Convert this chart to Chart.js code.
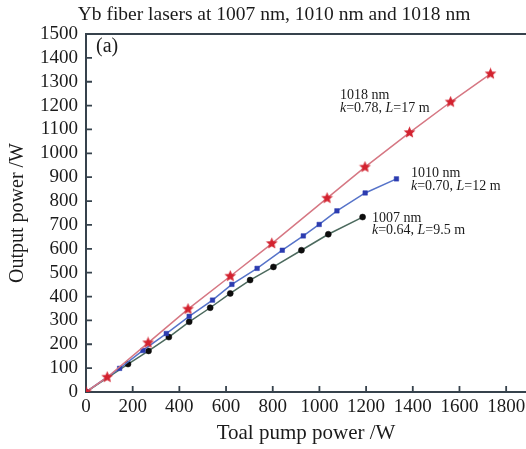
<!DOCTYPE html>
<html><head><meta charset="utf-8">
<script src="https://cdn.jsdelivr.net/npm/chart.js@4"></script>
<style>html,body{margin:0;padding:0;background:#fff}#wrap{width:526px;height:449px}</style>
</head><body><div id="wrap"><canvas id="c" width="526" height="449"></canvas></div>
<script>
// ---- data ----
const chartTitle = 'Yb fiber lasers at 1007 nm, 1010 nm and 1018 nm';
const panelLabel = '(a)';
const xAxisTitle = 'Toal pump power /W';
const yAxisTitle = 'Output power /W';
const xTickValues = [0, 200, 400, 600, 800, 1000, 1200, 1400, 1600, 1800];
const yTickValues = [0, 100, 200, 300, 400, 500, 600, 700, 800, 900, 1000, 1100, 1200, 1300, 1400, 1500];

const seriesNames = ['1018 nm', '1010 nm', '1007 nm'];
const seriesNotes = ['k=0.78, L=17 m', 'k=0.70, L=12 m', 'k=0.64, L=9.5 m'];

const pump1018 = [0, 91, 266, 437, 618, 796, 1033, 1195, 1386, 1562, 1733];
const out1018  = [0, 62, 206, 347, 485, 622, 812, 942, 1087, 1215, 1333];

const pump1010 = [0, 144, 244, 344, 442, 542, 625, 733, 841, 931, 999, 1075, 1196, 1330];
const out1010  = [0, 99, 174, 245, 317, 385, 451, 518, 594, 654, 702, 759, 834, 893];

const pump1007 = [0, 180, 268, 355, 442, 532, 618, 703, 803, 923, 1038, 1185];
const out1007  = [0, 117, 172, 230, 294, 353, 413, 469, 524, 594, 661, 733];

// ---- rendering ----
const SERIF = '"Liberation Serif", "DejaVu Serif", serif';
const AXIS_COLOR = '#36424c';
const TEXT_COLOR = '#1b1b1b';

function pts(xs, ys) { return xs.map((x, i) => ({x: x, y: ys[i]})); }

function makeStar(color, size) {
  const c = document.createElement('canvas');
  c.width = size; c.height = size;
  const g = c.getContext('2d');
  const cx = size / 2, cy = size / 2, R = size / 2 - 0.3, r = R * 0.45;
  g.beginPath();
  for (let i = 0; i < 10; i++) {
    const a = -Math.PI / 2 + i * Math.PI / 5;
    const rr = i % 2 === 0 ? R : r;
    const px = cx + rr * Math.cos(a), py = cy + rr * Math.sin(a);
    if (i === 0) g.moveTo(px, py); else g.lineTo(px, py);
  }
  g.closePath();
  g.fillStyle = color;
  g.fill();
  return c;
}
const starImg = makeStar('#d3222f', 13);

function drawRich(ctx, text, x, y, size) {
  const parts = text.split(/(k|L)(?==)/).filter(s => s.length);
  let cx = x;
  parts.forEach(p => {
    const it = (p === 'k' || p === 'L');
    ctx.font = (it ? 'italic ' : '') + size + 'px ' + SERIF;
    ctx.fillText(p, cx, y);
    cx += ctx.measureText(p).width;
  });
}

const decor = {
  id: 'decor',
  afterDraw(chart, args, opts) {
    const ctx = chart.ctx;
    const ca = chart.chartArea;
    const xs = chart.scales.x, ys = chart.scales.y;
    ctx.save();
    // top frame line
    ctx.strokeStyle = AXIS_COLOR;
    ctx.lineWidth = 2;
    ctx.beginPath();
    ctx.moveTo(ca.left, ca.top);
    ctx.lineTo(chart.width, ca.top);
    ctx.stroke();
    // inward ticks
    ctx.lineWidth = 1.8;
    ctx.beginPath();
    xTickValues.forEach(v => {
      if (v === xs.min) return;
      const p = xs.getPixelForValue(v);
      ctx.moveTo(p, ca.bottom);
      ctx.lineTo(p, ca.bottom - 6);
    });
    yTickValues.forEach(v => {
      if (v === ys.min || v === ys.max) return;
      const p = ys.getPixelForValue(v);
      ctx.moveTo(ca.left, p);
      ctx.lineTo(ca.left + 6, p);
    });
    ctx.stroke();
    // title
    ctx.fillStyle = TEXT_COLOR;
    ctx.textBaseline = 'middle';
    ctx.textAlign = 'center';
    ctx.font = '19.5px ' + SERIF;
    ctx.fillText(chartTitle, opts.titleX, opts.titleY);
    // panel label
    ctx.textAlign = 'left';
    ctx.font = '20px ' + SERIF;
    ctx.fillText(panelLabel, ca.left + opts.panelDx, ca.top + opts.panelDy);
    // series annotations
    opts.notes.forEach((a, i) => {
      const px = xs.getPixelForValue(a[0]);
      const py = ys.getPixelForValue(a[1]);
      ctx.font = '14px ' + SERIF;
      ctx.fillText(seriesNames[i], px, py);
      drawRich(ctx, seriesNotes[i], px, py + 12.5, 14);
    });
    ctx.restore();
  }
};

const tickFont = {family: SERIF, size: 19};
const plainNum = v => String(v);

new Chart(document.getElementById('c'), {
  type: 'line',
  data: {
    datasets: [
      {label: seriesNames[0], data: pts(pump1018, out1018), borderColor: '#d67783', borderWidth: 1.5,
       pointStyle: starImg, pointBackgroundColor: '#d3222f', pointBorderColor: '#d3222f', pointRadius: 6, tension: 0},
      {label: seriesNames[1], data: pts(pump1010, out1010), borderColor: '#5673c9', borderWidth: 1.5,
       pointStyle: 'rect', pointBackgroundColor: '#2c3cb0', pointBorderColor: '#2c3cb0', pointRadius: 3.2, pointBorderWidth: 0.5, tension: 0},
      {label: seriesNames[2], data: pts(pump1007, out1007), borderColor: '#4c6a5e', borderWidth: 1.5,
       pointStyle: 'circle', pointBackgroundColor: '#0d0d0d', pointBorderColor: '#0d0d0d', pointRadius: 3, pointBorderWidth: 0.5, tension: 0}
    ]
  },
  options: {
    responsive: false,
    animation: false,
    devicePixelRatio: 1,
    layout: {autoPadding: false, padding: {top: 34, left: 0, right: 0, bottom: 0}},
    plugins: {
      legend: {display: false},
      tooltip: {enabled: false},
      title: {display: false},
      decor: {
        titleX: 274, titleY: 15,
        panelDx: 10, panelDy: 13,
        notes: [[1088, 1243], [1392, 916], [1225, 728]]
      }
    },
    scales: {
      x: {
        type: 'linear', min: 0, max: 1885,
        afterBuildTicks: s => { s.ticks = xTickValues.map(v => ({value: v})); },
        afterFit: s => { s.height = 57; s.paddingRight = 0; s.paddingLeft = 0; },
        grid: {display: true, drawOnChartArea: false, drawTicks: false},
        border: {display: true, color: AXIS_COLOR, width: 2},
        ticks: {font: tickFont, color: TEXT_COLOR, padding: 4, maxRotation: 0, autoSkip: false, includeBounds: false, callback: plainNum},
        title: {display: true, text: xAxisTitle, font: {family: SERIF, size: 21}, color: TEXT_COLOR, padding: {top: 0, bottom: 3}}
      },
      y: {
        type: 'linear', min: 0, max: 1500,
        afterBuildTicks: s => { s.ticks = yTickValues.map(v => ({value: v})); },
        afterFit: s => { s.width = 86; s.paddingTop = 0; s.paddingBottom = 0; },
        grid: {display: true, drawOnChartArea: false, drawTicks: false},
        border: {display: true, color: AXIS_COLOR, width: 2},
        ticks: {font: tickFont, color: TEXT_COLOR, padding: 8, autoSkip: false, callback: plainNum},
        title: {display: true, text: yAxisTitle, font: {family: SERIF, size: 20}, color: TEXT_COLOR, padding: {top: 6, bottom: 0}}
      }
    }
  },
  plugins: [decor]
});
</script>
</body></html>
